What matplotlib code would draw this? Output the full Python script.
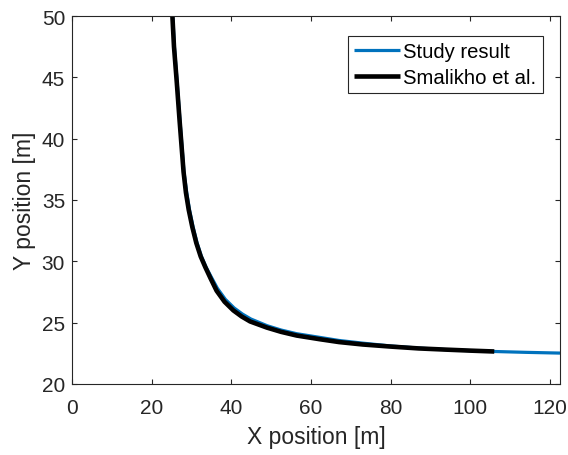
import matplotlib.pyplot as plt

plt.rcParams['font.family'] = ['Liberation Sans', 'DejaVu Sans']

# Trajectory from the study (m)
study_x = [25.3, 25.7, 26.4, 27.1, 27.6, 28.1, 28.8, 29.5, 30.4, 31.4, 32.5, 33.7,
           35.0, 36.5, 38.5, 40.7, 42.8, 44.9, 49.0, 52.5, 56.4, 62.2, 67.0, 73.0,
           80.0, 87.0, 94.0, 100.0, 106.0, 114.0, 122.5]
study_y = [50.0, 47.5, 44.6, 41.5, 39.4, 37.3, 35.6, 34.2, 32.8, 31.5, 30.4, 29.5,
           28.7, 27.8, 26.9, 26.2, 25.7, 25.3, 24.75, 24.4, 24.1, 23.8, 23.55, 23.33,
           23.1, 22.93, 22.8, 22.72, 22.65, 22.58, 22.52]

# Trajectory reported by Smalikho et al. (m)
smal_x = [25.2, 25.6, 26.3, 27.0, 27.5, 28.0, 28.6, 29.3, 30.2, 31.2, 32.3, 33.5,
          34.8, 36.3, 38.3, 40.5, 42.6, 44.7, 48.9, 52.5, 56.4, 62.2, 67.0, 73.0,
          80.0, 87.0, 94.0, 100.0, 106.0]
smal_y = [50.0, 47.5, 44.6, 41.5, 39.4, 37.3, 35.6, 34.2, 32.8, 31.5, 30.4, 29.5,
          28.6, 27.6, 26.7, 26.0, 25.5, 25.1, 24.6, 24.25, 23.95, 23.65, 23.42, 23.22,
          23.05, 22.9, 22.8, 22.72, 22.65]

x_ticks = [0, 20, 40, 60, 80, 100, 120]
y_ticks = [20, 25, 30, 35, 40, 45, 50]

fig = plt.figure(figsize=(5.68, 4.56), dpi=100)
ax = fig.add_axes([72 / 568, 71 / 456, 488 / 568, 368 / 456])

ax.plot(study_x, study_y, color='#0072BD', lw=2.3, label='Study result',
        solid_capstyle='butt')
ax.plot(smal_x, smal_y, color='black', lw=3.3, label='Smalikho et al.',
        solid_capstyle='butt')

ax.set_xlim(0, 122.5)
ax.set_ylim(20, 50)
ax.set_xticks(x_ticks)
ax.set_yticks(y_ticks)

dark = '#262626'
for s in ax.spines.values():
    s.set_color(dark)
    s.set_linewidth(0.8)
ax.tick_params(direction='in', length=3.5, width=0.8, colors=dark,
               labelsize=15, top=True, right=True)
ax.tick_params(axis='x', pad=10)
ax.tick_params(axis='y', pad=5)

ax.set_xlabel('X position [m]', fontsize=16.5, color=dark, labelpad=6)
ax.set_ylabel('Y position [m]', fontsize=16.5, color=dark, labelpad=4)

leg = ax.legend(loc='upper right', bbox_to_anchor=(542.7 / 568, (456 - 36.7) / 456),
                bbox_transform=fig.transFigure, borderaxespad=0, fontsize=14.6,
                fancybox=False, framealpha=1, edgecolor=dark, handlelength=2.27,
                handletextpad=0.15, borderpad=0.32, labelspacing=0.33)
leg.get_frame().set_linewidth(0.8)

fig.savefig('out.png', dpi=100)
